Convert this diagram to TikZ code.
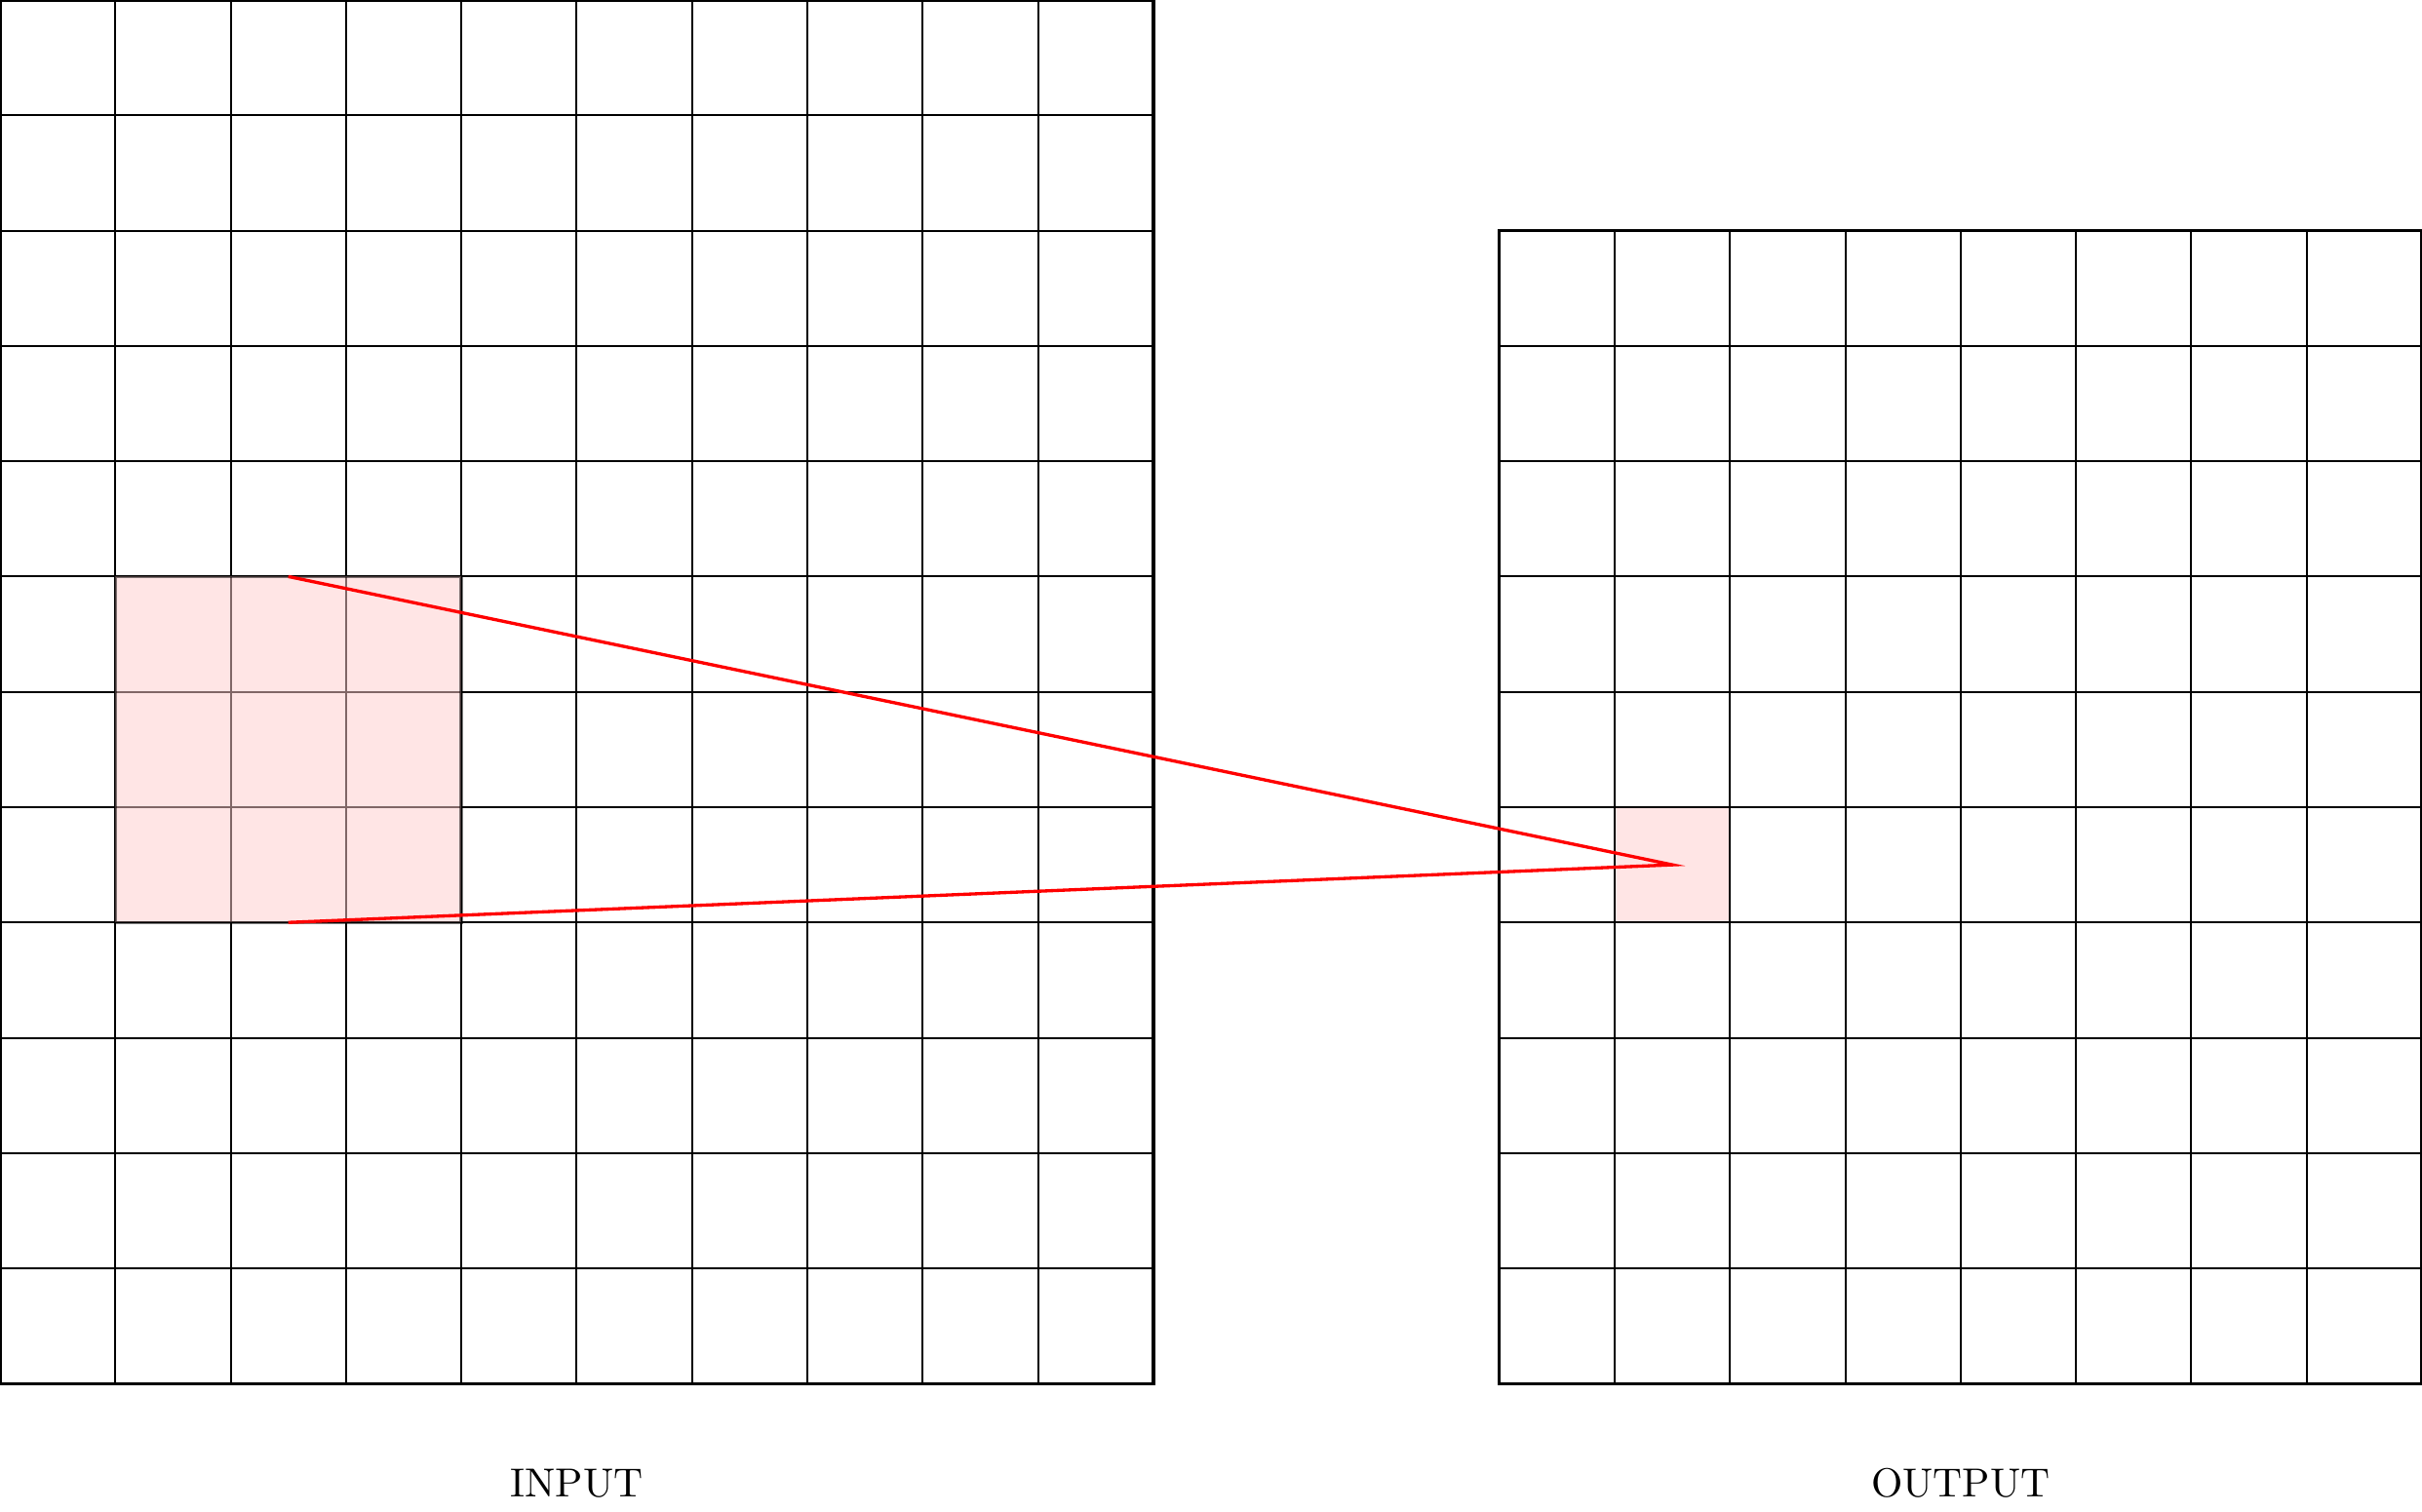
\documentclass[tikz,border=0pt]{standalone}
\usetikzlibrary{positioning}

\begin{document}
\begin{tikzpicture}[
  gridline/.style={draw=black, line width=0.48pt},
  frame/.style={draw=black, thick},
  field/.style={fill=red!20, draw=black, thick, opacity=0.5},
  cellfill/.style={fill=red!10},
  link/.style={draw=red, thick},
  caption/.style={font=\normalsize}
]
  \useasboundingbox (0,-1.11) rectangle (21,12);

  % Input grid
  \draw[gridline] (0,0) grid (10,12);
  \draw[frame] (0,0) rectangle (10,12);

  % Receptive field
  \filldraw[field] (1,4) rectangle (4,7);
  \coordinate (fieldtop) at (2.5,7);
  \coordinate (fieldbot) at (2.5,4);

  % Output grid
  \fill[cellfill] (14,4) rectangle (15,5);
  \coordinate (unit) at (14.5,4.5);
  \draw[gridline] (13,0) grid (21,10);
  \draw[frame] (13,0) rectangle (21,10);

  % Mapping
  \draw[link] (fieldtop) -- (unit) -- (fieldbot);

  % Labels
  \node[caption] (input) at (5,-0.865) {INPUT};
  \node[caption] (output) at (17,-0.865) {OUTPUT};
\end{tikzpicture}
\end{document}
